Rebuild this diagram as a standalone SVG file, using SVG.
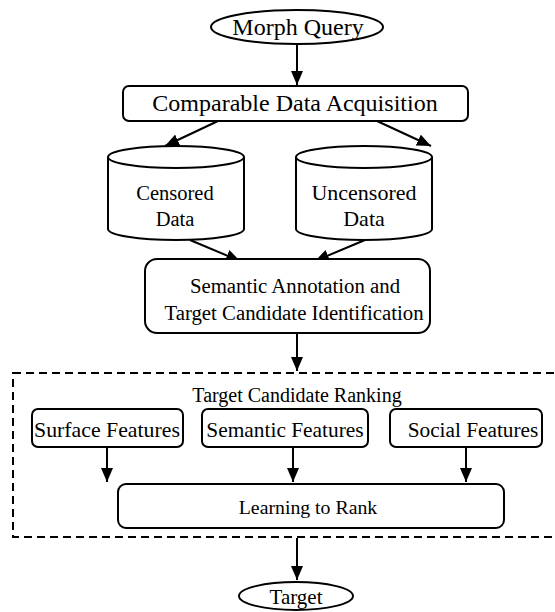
<svg xmlns="http://www.w3.org/2000/svg" width="555" height="612" viewBox="0 0 555 612">
<defs>
<marker id="ah" viewBox="0 0 14 12" refX="14" refY="6" markerWidth="14" markerHeight="12" markerUnits="userSpaceOnUse" orient="auto">
<path d="M0,0 L14,6 L0,12 z" fill="#000"/>
</marker>
</defs>
<style>
.s{fill:#fff;stroke:#000;stroke-width:2}
.t{font-family:"Liberation Serif","Times New Roman",serif;font-size:21px;fill:#000;text-anchor:middle}
.c{stroke:#000;stroke-width:2;fill:none;marker-end:url(#ah)}
.d{fill:none;stroke:#000;stroke-width:2;stroke-dasharray:8,5}
</style>
<rect width="555" height="612" fill="#fff"/>
<g id="connectors">
<line class="c" x1="297" y1="44" x2="297" y2="85"/>
<line class="c" x1="218" y1="121" x2="165" y2="146"/>
<line class="c" x1="377" y1="121" x2="431" y2="146"/>
<line class="c" x1="190" y1="240" x2="240" y2="261"/>
<line class="c" x1="365" y1="240" x2="315" y2="261"/>
<line class="c" x1="297" y1="333" x2="297" y2="371"/>
<line class="c" x1="107" y1="447" x2="107" y2="482"/>
<line class="c" x1="293" y1="447" x2="293" y2="482"/>
<line class="c" x1="466" y1="447" x2="466" y2="482"/>
<line class="c" x1="297" y1="538" x2="297" y2="580"/>
</g>
<g id="morph-query">
<ellipse class="s" cx="297" cy="27" rx="86" ry="17"/>
<text class="t" x="298" y="35" style="font-size:24px">Morph Query</text>
</g>
<g id="comparable-data">
<rect class="s" x="123" y="86" width="345" height="35" rx="6"/>
<text class="t" x="295" y="111" style="font-size:24px">Comparable Data Acquisition</text>
</g>
<g id="censored-data">
<path class="s" d="M108,157 A68,11 0 0 1 244,157 L244,229 A68,11 0 0 1 108,229 Z"/>
<path class="s" d="M108,157 A68,11 0 0 0 244,157" fill="none"/>
<text class="t" x="175" y="200" style="font-size:20.5px">Censored</text>
<text class="t" x="175" y="226" style="font-size:20.5px">Data</text>
</g>
<g id="uncensored-data">
<path class="s" d="M296,157 A68,11 0 0 1 432,157 L432,229 A68,11 0 0 1 296,229 Z"/>
<path class="s" d="M296,157 A68,11 0 0 0 432,157" fill="none"/>
<text class="t" x="364" y="200" style="font-size:22px">Uncensored</text>
<text class="t" x="364" y="226" style="font-size:22px">Data</text>
</g>
<g id="semantic-annotation">
<rect class="s" x="145" y="259" width="285" height="74" rx="12"/>
<text class="t" x="295" y="293" style="font-size:20.8px">Semantic Annotation and</text>
<text class="t" x="294" y="320" style="font-size:20.8px">Target Candidate Identification</text>
</g>
<g id="target-candidate-ranking">
<rect class="d" x="13" y="373" width="545" height="164"/>
<text class="t" x="297" y="402" style="font-size:20px">Target Candidate Ranking</text>
</g>
<g id="surface-features">
<rect class="s" x="32" y="409" width="151" height="38" rx="6"/>
<text class="t" x="107" y="437" style="font-size:21.8px">Surface Features</text>
</g>
<g id="semantic-features">
<rect class="s" x="202" y="409" width="166" height="38" rx="6"/>
<text class="t" x="285" y="437" style="font-size:21.4px">Semantic Features</text>
</g>
<g id="social-features">
<rect class="s" x="390" y="409" width="152" height="38" rx="6"/>
<text class="t" x="473" y="437" style="font-size:21.3px">Social Features</text>
</g>
<g id="learning-to-rank">
<rect class="s" x="118" y="484" width="386" height="44" rx="8"/>
<text class="t" x="308" y="514" style="font-size:19.8px">Learning to Rank</text>
</g>
<g id="target">
<ellipse class="s" cx="296" cy="596" rx="57" ry="14"/>
<text class="t" x="296" y="604" style="font-size:21px">Target</text>
</g>
</svg>
